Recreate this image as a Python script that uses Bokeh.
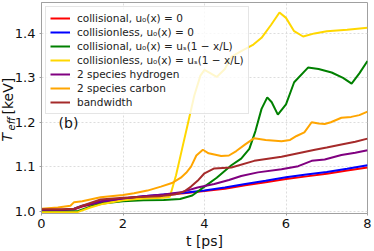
from bokeh.plotting import figure
from bokeh.models import Label, Range1d, FixedTicker, Legend, Title
from bokeh.embed import file_html
from bokeh.resources import INLINE

# ---------------- data ----------------
red_t = [0, 0.5, 0.8, 1.0, 1.5, 2.0, 2.5, 3.0, 3.5, 4.0, 4.5, 5.0, 5.5, 6.0, 6.5, 7.0, 7.5, 8.0]
red_y = [1.002, 1.002, 1.004, 1.010, 1.020, 1.027, 1.032, 1.036, 1.040, 1.045, 1.050, 1.058, 1.065, 1.072, 1.078, 1.084, 1.091, 1.098]

blue_t = [0, 0.5, 0.8, 1.0, 1.5, 2.0, 2.5, 3.0, 3.5, 4.0, 4.5, 5.0, 5.5, 6.0, 6.5, 7.0, 7.5, 8.0]
blue_y = [1.002, 1.002, 1.005, 1.012, 1.022, 1.028, 1.033, 1.037, 1.041, 1.046, 1.053, 1.061, 1.068, 1.076, 1.082, 1.088, 1.095, 1.103]

green_t = [0, 0.5, 0.9, 1.2, 1.5, 2.0, 2.5, 3.0, 3.4, 3.7, 4.0, 4.3, 4.66, 4.9, 5.1, 5.25, 5.4, 5.54,
           5.65, 5.8, 6.0, 6.2, 6.54, 6.8, 7.12, 7.4, 7.61, 7.8, 8.0]
green_y = [0.999, 0.999, 1.000, 1.010, 1.017, 1.022, 1.024, 1.025, 1.027, 1.035, 1.055, 1.075, 1.103, 1.118,
           1.140, 1.180, 1.230, 1.256, 1.245, 1.217, 1.240, 1.290, 1.323, 1.320, 1.312, 1.300, 1.287, 1.310, 1.338]

yellow_t = [0, 0.5, 0.9, 1.2, 1.5, 2.0, 2.5, 3.0, 3.15, 3.3, 3.45, 3.6, 3.75, 3.9, 4.0, 4.15, 4.3, 4.5,
            4.66, 4.9, 5.2, 5.4, 5.64, 5.84, 6.0, 6.2, 6.42, 6.7, 7.0, 7.5, 8.0]
yellow_y = [0.997, 0.997, 0.998, 1.008, 1.016, 1.024, 1.028, 1.030, 1.032, 1.080, 1.140, 1.200, 1.260, 1.305,
            1.318, 1.310, 1.302, 1.320, 1.347, 1.360, 1.375, 1.390, 1.420, 1.447, 1.435, 1.405, 1.393, 1.400,
            1.405, 1.408, 1.413]

purple_t = [0, 0.5, 0.8, 1.0, 1.45, 2.0, 2.5, 3.0, 3.42, 3.83, 4.24, 4.6, 4.9, 5.31, 5.89, 6.3, 6.63, 6.95,
            7.36, 7.7, 8.0]
purple_y = [1.003, 1.003, 1.004, 1.011, 1.022, 1.028, 1.033, 1.037, 1.042, 1.053, 1.061, 1.070, 1.079, 1.087,
            1.094, 1.101, 1.113, 1.116, 1.126, 1.131, 1.137]

orange_t = [0, 0.4, 0.71, 0.8, 1.0, 1.45, 2.0, 2.27, 2.6, 2.93, 3.2, 3.42, 3.55, 3.67, 3.8, 3.96, 4.1, 4.41,
            4.6, 4.78, 5.0, 5.22, 5.5, 5.89, 6.1, 6.26, 6.45, 6.63, 6.8, 6.95, 7.1, 7.36, 7.6, 7.8, 8.0]
orange_y = [1.005, 1.008, 1.012, 1.020, 1.022, 1.031, 1.036, 1.040, 1.046, 1.055, 1.063, 1.075, 1.086, 1.100,
            1.125, 1.138, 1.130, 1.124, 1.125, 1.135, 1.150, 1.164, 1.160, 1.157, 1.160, 1.169, 1.177, 1.200,
            1.197, 1.196, 1.200, 1.210, 1.212, 1.216, 1.224]

brown_t = [0, 0.5, 0.8, 1.0, 1.45, 2.0, 2.27, 2.9, 3.3, 3.5, 3.67, 3.83, 4.0, 4.24, 4.66, 5.22, 5.89, 6.3,
           6.71, 7.0, 7.36, 7.7, 8.0]
brown_y = [1.004, 1.004, 1.005, 1.012, 1.026, 1.030, 1.031, 1.033, 1.038, 1.044, 1.055, 1.068, 1.085, 1.096,
           1.098, 1.113, 1.122, 1.130, 1.138, 1.143, 1.150, 1.156, 1.163]

labels = ["collisional, u\u2080(x) = 0",
          "collisionless, u\u2080(x) = 0",
          "collisional, u\u2080(x) = u\u209b(1 \u2212 x/L)",
          "collisionless, u\u2080(x) = u\u209b(1 \u2212 x/L)",
          "2 species hydrogen",
          "2 species carbon",
          "bandwidth"]
colors = ["red", "blue", "green", "gold", "purple", "orange", "brown"]

x_ticks = [0, 2, 4, 6, 8]
y_ticks = [1.0, 1.1, 1.2, 1.3, 1.4]
y_tick_labels = {1.0: "1.0", 1.1: "1.1", 1.2: "1.2", 1.3: "1.3", 1.4: "1.4"}

FONT = "DejaVu Sans"

p = figure(width=374, height=251, output_backend="svg", toolbar_location=None,
           x_range=Range1d(0, 8), y_range=Range1d(0.9944, 1.4696),
           min_border_left=41, min_border_right=7, min_border_top=2, min_border_bottom=35)

p.background_fill_color = "white"
p.border_fill_color = "white"
p.outline_line_color = "#a0a0a0"
p.outline_line_width = 1

series = [(red_t, red_y), (blue_t, blue_y), (green_t, green_y), (yellow_t, yellow_y),
          (purple_t, purple_y), (orange_t, orange_y), (brown_t, brown_y)]
renderers = []
for (t, y), c, lab in zip(series, colors, labels):
    r = p.line(t, y, line_color=c, line_width=2)
    renderers.append((lab, [r]))

legend = Legend(items=renderers, location="top_left")
legend.label_text_font = FONT
legend.label_text_font_size = "10.5px"
legend.label_text_color = "#222222"
legend.glyph_width = 20
legend.glyph_height = 14
legend.label_height = 14
legend.label_standoff = 7
legend.spacing = 0
legend.padding = 4
legend.margin = 4
legend.border_line_color = "#cccccc"
legend.border_line_width = 1
legend.background_fill_color = "white"
legend.background_fill_alpha = 0.8
p.add_layout(legend, "center")

# axes
p.xaxis.ticker = FixedTicker(ticks=x_ticks)
p.yaxis.ticker = FixedTicker(ticks=y_ticks)
p.yaxis.major_label_overrides = y_tick_labels
p.xaxis.minor_tick_line_color = None
p.yaxis.minor_tick_line_color = None
for ax in (p.xaxis, p.yaxis):
    ax.axis_line_color = "#a0a0a0"
    ax.major_tick_line_color = "#a0a0a0"
    ax.major_tick_in = 0
    ax.major_tick_out = 2
    ax.major_label_text_font = FONT
    ax.major_label_text_font_size = "13px"
    ax.major_label_text_color = "#111111"
p.xaxis.major_label_standoff = 3
p.yaxis.major_label_standoff = 4
p.xaxis.axis_label = "t [ps]"
p.xaxis.axis_label_text_font = FONT
p.xaxis.axis_label_text_font_size = "14px"
p.xaxis.axis_label_text_font_style = "normal"
p.xaxis.axis_label_text_color = "#111111"
p.xaxis.axis_label_standoff = 2

p.grid.grid_line_color = "#dddddd"
p.grid.grid_line_dash = "2 2"
p.grid.grid_line_width = 1

# y axis label "T_eff [keV]" as three pieces in the left border
def ylab(text, size, style, offset, standoff):
    return Title(text=text, align="left", vertical_align="bottom", offset=offset, standoff=standoff,
                 text_font=FONT, text_font_size=size, text_font_style=style, text_color="#111111")

p.add_layout(ylab("eff", "10px", "italic", 83, -10.2), "left")
p.add_layout(ylab("T", "14px", "italic", 72, -12.8), "left")
p.add_layout(ylab("[keV]", "14px", "normal", 99, -24.0), "left")

# panel tag
p.add_layout(Label(x=0.42, y=1.199, text="(b)", text_font=FONT, text_font_size="14px",
                   text_color="#111111", text_align="left", text_baseline="alphabetic"))

open("out.html", "w").write(file_html(p, INLINE))
